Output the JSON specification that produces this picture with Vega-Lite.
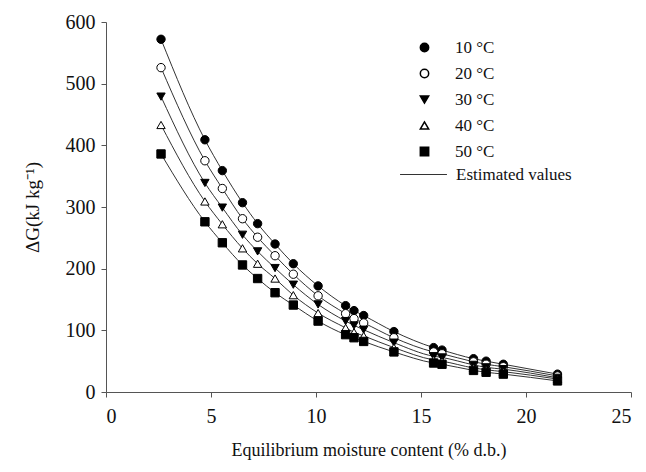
{
  "$schema": "https://vega.github.io/schema/vega-lite/v6.json",
  "autosize": "none",
  "width": 525,
  "height": 370,
  "padding": {"left": 106, "top": 22, "right": 15, "bottom": 80},
  "background": "white",
  "config": {
    "view": {"stroke": null},
    "font": "Liberation Serif",
    "axis": {"grid": false, "domainColor": "#555", "tickColor": "#555", "labelFont": "Liberation Serif", "titleFont": "Liberation Serif", "labelFontSize": 20, "titleFontSize": 18, "labelColor": "#111", "titleColor": "#111", "titleFontWeight": "normal", "tickSize": 5}
  },
  "data": {"values": [
    {"T": "10 °C", "x": 2.62, "y": 572}, {"T": "10 °C", "x": 4.71, "y": 409}, {"T": "10 °C", "x": 5.54, "y": 359}, {"T": "10 °C", "x": 6.5, "y": 307}, {"T": "10 °C", "x": 7.22, "y": 273}, {"T": "10 °C", "x": 8.05, "y": 240}, {"T": "10 °C", "x": 8.92, "y": 208}, {"T": "10 °C", "x": 10.1, "y": 172}, {"T": "10 °C", "x": 11.41, "y": 140}, {"T": "10 °C", "x": 11.81, "y": 132}, {"T": "10 °C", "x": 12.27, "y": 124}, {"T": "10 °C", "x": 13.71, "y": 98}, {"T": "10 °C", "x": 15.6, "y": 72}, {"T": "10 °C", "x": 16.0, "y": 68}, {"T": "10 °C", "x": 17.5, "y": 54}, {"T": "10 °C", "x": 18.1, "y": 50}, {"T": "10 °C", "x": 18.92, "y": 45}, {"T": "10 °C", "x": 21.5, "y": 29},
    {"T": "20 °C", "x": 2.62, "y": 526}, {"T": "20 °C", "x": 4.71, "y": 375}, {"T": "20 °C", "x": 5.54, "y": 330}, {"T": "20 °C", "x": 6.5, "y": 281}, {"T": "20 °C", "x": 7.22, "y": 251}, {"T": "20 °C", "x": 8.05, "y": 221}, {"T": "20 °C", "x": 8.92, "y": 191}, {"T": "20 °C", "x": 10.1, "y": 156}, {"T": "20 °C", "x": 11.41, "y": 127}, {"T": "20 °C", "x": 11.81, "y": 119}, {"T": "20 °C", "x": 12.27, "y": 112}, {"T": "20 °C", "x": 13.71, "y": 88}, {"T": "20 °C", "x": 15.6, "y": 65}, {"T": "20 °C", "x": 16.0, "y": 62}, {"T": "20 °C", "x": 17.5, "y": 49}, {"T": "20 °C", "x": 18.1, "y": 45}, {"T": "20 °C", "x": 18.92, "y": 41}, {"T": "20 °C", "x": 21.5, "y": 26},
    {"T": "30 °C", "x": 2.62, "y": 479}, {"T": "30 °C", "x": 4.71, "y": 339}, {"T": "30 °C", "x": 5.54, "y": 299}, {"T": "30 °C", "x": 6.5, "y": 255}, {"T": "30 °C", "x": 7.22, "y": 228}, {"T": "30 °C", "x": 8.05, "y": 201}, {"T": "30 °C", "x": 8.92, "y": 174}, {"T": "30 °C", "x": 10.1, "y": 142}, {"T": "30 °C", "x": 11.41, "y": 115}, {"T": "30 °C", "x": 11.81, "y": 108}, {"T": "30 °C", "x": 12.27, "y": 101}, {"T": "30 °C", "x": 13.71, "y": 80}, {"T": "30 °C", "x": 15.6, "y": 58}, {"T": "30 °C", "x": 16.0, "y": 56}, {"T": "30 °C", "x": 17.5, "y": 44}, {"T": "30 °C", "x": 18.1, "y": 40}, {"T": "30 °C", "x": 18.92, "y": 37}, {"T": "30 °C", "x": 21.5, "y": 23},
    {"T": "40 °C", "x": 2.62, "y": 433}, {"T": "40 °C", "x": 4.71, "y": 309}, {"T": "40 °C", "x": 5.54, "y": 272}, {"T": "40 °C", "x": 6.5, "y": 233}, {"T": "40 °C", "x": 7.22, "y": 208}, {"T": "40 °C", "x": 8.05, "y": 184}, {"T": "40 °C", "x": 8.92, "y": 157}, {"T": "40 °C", "x": 10.1, "y": 128}, {"T": "40 °C", "x": 11.41, "y": 104}, {"T": "40 °C", "x": 11.81, "y": 97}, {"T": "40 °C", "x": 12.27, "y": 91}, {"T": "40 °C", "x": 13.71, "y": 72}, {"T": "40 °C", "x": 15.6, "y": 52}, {"T": "40 °C", "x": 16.0, "y": 50}, {"T": "40 °C", "x": 17.5, "y": 39}, {"T": "40 °C", "x": 18.1, "y": 36}, {"T": "40 °C", "x": 18.92, "y": 33}, {"T": "40 °C", "x": 21.5, "y": 21},
    {"T": "50 °C", "x": 2.62, "y": 386}, {"T": "50 °C", "x": 4.71, "y": 276}, {"T": "50 °C", "x": 5.54, "y": 242}, {"T": "50 °C", "x": 6.5, "y": 206}, {"T": "50 °C", "x": 7.22, "y": 184}, {"T": "50 °C", "x": 8.05, "y": 161}, {"T": "50 °C", "x": 8.92, "y": 141}, {"T": "50 °C", "x": 10.1, "y": 115}, {"T": "50 °C", "x": 11.41, "y": 93}, {"T": "50 °C", "x": 11.81, "y": 88}, {"T": "50 °C", "x": 12.27, "y": 82}, {"T": "50 °C", "x": 13.71, "y": 65}, {"T": "50 °C", "x": 15.6, "y": 47}, {"T": "50 °C", "x": 16.0, "y": 45}, {"T": "50 °C", "x": 17.5, "y": 35}, {"T": "50 °C", "x": 18.1, "y": 32}, {"T": "50 °C", "x": 18.92, "y": 29}, {"T": "50 °C", "x": 21.5, "y": 18}
  ]},
  "encoding": {
    "x": {"field": "x", "type": "quantitative", "scale": {"domain": [0, 25], "nice": false}, "axis": {"values": [0, 5, 10, 15, 20, 25], "title": "Equilibrium moisture content (% d.b.)", "labelPadding": 9, "titlePadding": 15}},
    "y": {"field": "y", "type": "quantitative", "scale": {"domain": [0, 600], "nice": false}, "axis": {"values": [0, 100, 200, 300, 400, 500, 600], "title": "ΔG(kJ kg⁻¹)", "titleFontSize": 19, "labelPadding": 6, "titlePadding": 23}}
  },
  "layer": [
    {
      "mark": {"type": "line", "interpolate": "monotone", "strokeWidth": 1},
      "encoding": {
        "detail": {"field": "T"},
        "stroke": {"datum": "Estimated values", "type": "nominal", "scale": {"range": ["#333333"]},
          "legend": {"title": null, "orient": "none", "legendX": 293, "legendY": 128, "symbolType": "stroke", "symbolSize": 2200, "symbolStrokeWidth": 1.2, "labelFontSize": 17, "labelFont": "Liberation Serif", "labelColor": "#111", "labelOffset": 8, "padding": 0}}
      }
    },
    {
      "mark": {"type": "point", "filled": false, "size": 70, "stroke": "black", "strokeWidth": 1, "opacity": 1},
      "encoding": {
        "shape": {"field": "T", "type": "nominal", "scale": {"range": ["circle", "circle", "triangle-down", "triangle-up", "square"]},
          "legend": {"title": null, "orient": "none", "legendX": 310, "legendY": 17, "labelFontSize": 17, "labelFont": "Liberation Serif", "labelColor": "#111", "labelOffset": 22, "rowPadding": 8, "padding": 0, "symbolSize": 70,
            "encode": {"symbols": {"update": {"stroke": {"value": "black"}, "strokeWidth": {"value": 1}}}}}},
        "fill": {"field": "T", "type": "nominal", "scale": {"range": ["black", "white", "black", "white", "black"]},
          "legend": {"title": null, "orient": "none", "legendX": 310, "legendY": 17, "labelFontSize": 17, "labelFont": "Liberation Serif", "labelColor": "#111", "labelOffset": 22, "rowPadding": 8, "padding": 0, "symbolSize": 70,
            "encode": {"symbols": {"update": {"stroke": {"value": "black"}, "strokeWidth": {"value": 1}}}}}}
      }
    }
  ]
}
